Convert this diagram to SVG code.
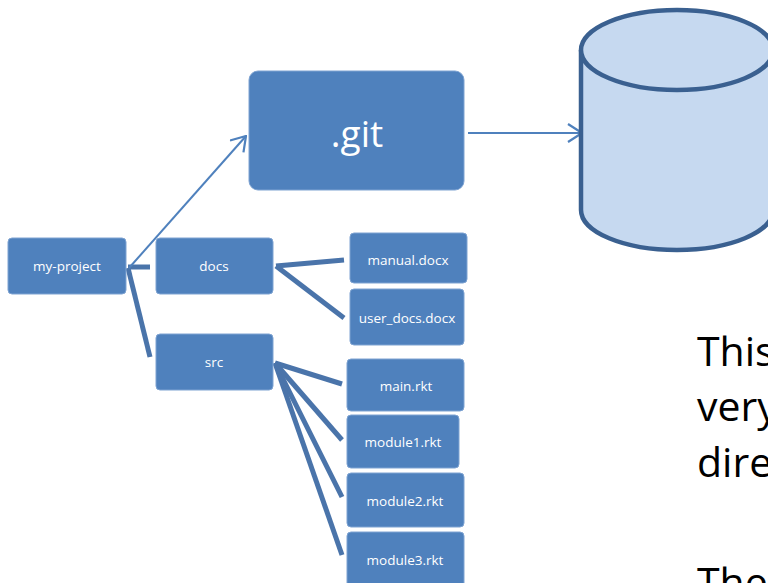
<svg xmlns="http://www.w3.org/2000/svg" width="768" height="583" viewBox="0 0 768 583">
<style>
.box{fill:#4f81bd;stroke:#7ea3d2;stroke-width:1}
.lbl{fill:#ffffff;font-family:"Open Sans","Noto Sans",sans-serif;font-size:13.5px;text-anchor:middle;dominant-baseline:central}
.tree{stroke:#4a74aa;stroke-width:5;fill:none}
.arr{stroke:#4f81bd;stroke-width:2;fill:none}
.body{fill:#000;font-family:"Open Sans","Noto Sans",sans-serif;font-size:41px}
</style>
<defs>
<marker id="open" viewBox="0 0 16 20" refX="15" refY="10" markerWidth="16" markerHeight="20" markerUnits="userSpaceOnUse" orient="auto">
<path d="M1,1 L15,10 L1,19" fill="none" stroke="#4f81bd" stroke-width="2.2"/>
</marker>
</defs>
<g id="connectors">
<line class="tree" x1="128" y1="267" x2="150" y2="267" stroke-width="6"/>
<line class="tree" x1="128" y1="268" x2="150" y2="357" stroke-width="4"/>
<line class="arr" x1="129" y1="268" x2="246" y2="136" marker-end="url(#open)"/>
<line class="arr" x1="468" y1="133" x2="582" y2="133" marker-end="url(#open)"/>
<line class="tree" x1="276" y1="266" x2="344" y2="260"/>
<line class="tree" x1="276" y1="266" x2="344" y2="318"/>
<line class="tree" x1="275" y1="363" x2="342" y2="384"/>
<line class="tree" x1="275" y1="363" x2="342" y2="440"/>
<line class="tree" x1="275" y1="363" x2="342" y2="497"/>
<line class="tree" x1="275" y1="363" x2="342" y2="555"/>
</g>
<g id="repo">
<path d="M581,50 L581,210 A96,40 0 0 0 773,210 L773,50" fill="#c6d9f0" stroke="#3a6090" stroke-width="4.5"/>
<ellipse cx="677" cy="50" rx="96" ry="40" fill="#c6d9f0" stroke="#3a6090" stroke-width="4.5"/>
</g>
<g id="git"><rect class="box" x="249" y="71" width="215" height="119" rx="9"/><text class="lbl" x="357" y="132" style="font-size:37px">.git</text></g>
<g id="my-project"><rect class="box" x="8" y="238" width="118" height="56" rx="4"/><text class="lbl" x="67" y="266">my-project</text></g>
<g id="docs"><rect class="box" x="156" y="238" width="117" height="56" rx="4"/><text class="lbl" x="214" y="266">docs</text></g>
<g id="src"><rect class="box" x="156" y="334" width="117" height="56" rx="4"/><text class="lbl" x="214" y="362">src</text></g>
<g id="manual"><rect class="box" x="350" y="233" width="117" height="50" rx="4"/><text class="lbl" x="408" y="260">manual.docx</text></g>
<g id="user_docs"><rect class="box" x="350" y="289" width="114" height="56" rx="4"/><text class="lbl" x="407" y="318">user_docs.docx</text></g>
<g id="main"><rect class="box" x="347" y="359" width="117" height="52" rx="4"/><text class="lbl" x="406" y="386">main.rkt</text></g>
<g id="module1"><rect class="box" x="347" y="415" width="112" height="53" rx="4"/><text class="lbl" x="403" y="442">module1.rkt</text></g>
<g id="module2"><rect class="box" x="347" y="473" width="117" height="54" rx="4"/><text class="lbl" x="405" y="501">module2.rkt</text></g>
<g id="module3"><rect class="box" x="347" y="532" width="117" height="60" rx="4"/><text class="lbl" x="405" y="560">module3.rkt</text></g>
<g id="text">
<text class="body" x="697" y="366">This</text>
<text class="body" x="697" y="421">very</text>
<text class="body" x="697" y="477">dire</text>
<text class="body" x="697" y="597">The</text>
</g>
</svg>
